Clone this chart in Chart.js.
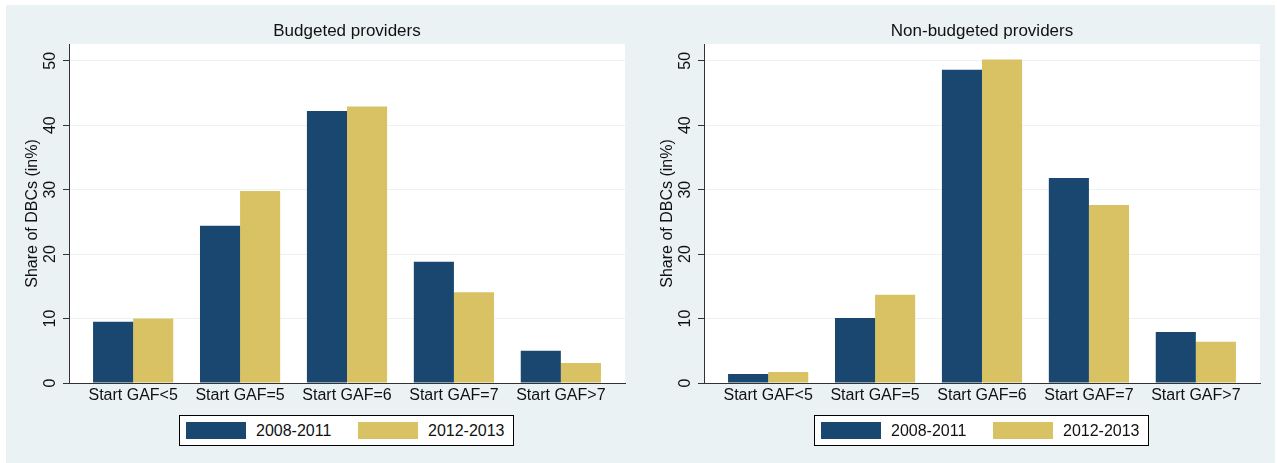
<!DOCTYPE html>
<html>
<head>
<meta charset="utf-8">
<script src="https://cdn.jsdelivr.net/npm/chart.js@4/dist/chart.umd.min.js"></script>
<style>
  html, body { margin: 0; padding: 0; background: #fff; }
  body { width: 1277px; height: 463px; position: relative; overflow: hidden;
         font-family: "Liberation Sans", Arial, sans-serif; }
  #region { position: absolute; left: 6px; top: 5px; width: 1269px; height: 458px; background: #eaf2f3; }
  .panel { position: absolute; top: 5px; width: 634px; height: 458px; }
  .legend { position: absolute; top: 415px; width: 333px; height: 29px; background: #fff;
            border: 1px solid #000; }
  .legend .sw { position: absolute; top: 6px; width: 60px; height: 17px; }
  .legend .lb { position: absolute; top: 0; line-height: 29px; font-size: 16px; color: #111; }
</style>
</head>
<body>
<div id="region"></div>
<div class="panel" style="left:6px"><canvas id="budgeted" width="634" height="458"></canvas></div>
<div class="panel" style="left:641px"><canvas id="nonBudgeted" width="634" height="458"></canvas></div>

<div class="legend" style="left:179px">
  <div class="sw" style="left:6px;background:#1a476f"></div><div class="lb" style="left:76px">2008-2011</div>
  <div class="sw" style="left:178px;background:#d8c264"></div><div class="lb" style="left:248px">2012-2013</div>
</div>
<div class="legend" style="left:814px">
  <div class="sw" style="left:6px;background:#1a476f"></div><div class="lb" style="left:76px">2008-2011</div>
  <div class="sw" style="left:178px;background:#d8c264"></div><div class="lb" style="left:248px">2012-2013</div>
</div>

<script>
// GAF start groups and shares of DBCs (%) per period
const categories = ['Start GAF<5', 'Start GAF=5', 'Start GAF=6', 'Start GAF=7', 'Start GAF>7'];
const budgeted0811 = [9.5, 24.4, 42.2, 18.8, 5.0];
const budgeted1213 = [10.0, 29.8, 42.9, 14.1, 3.1];
const nonBudgeted0811 = [1.4, 10.1, 48.6, 31.8, 7.9];
const nonBudgeted1213 = [1.7, 13.7, 50.2, 27.6, 6.4];
const periods = ['2008-2011', '2012-2013'];
const yTicks = [0, 10, 20, 30, 40, 50];

const NAVY = '#1a476f';
const GOLD = '#d8c264';
const INK = '#111';
const AXIS = '#333';
const FONT = '"Liberation Sans", Arial, sans-serif';

// white plot region behind the bars
const plotBackground = {
    id: 'plotBackground',
    beforeDraw(chart) {
        const a = chart.chartArea;
        const c = chart.ctx;
        c.save();
        c.fillStyle = '#fff';
        c.fillRect(a.left, a.top, a.right - a.left, a.bottom - a.top);
        c.restore();
    }
};

function toPoints(values) {
    return values.map((v, i) => ({ x: i, y: v }));
}

function makePanel(id, title, first, second) {
    return new Chart(document.getElementById(id).getContext('2d'), {
        type: 'bar',
        data: {
            datasets: [
                { label: periods[0], data: toPoints(first), backgroundColor: NAVY },
                { label: periods[1], data: toPoints(second), backgroundColor: GOLD }
            ]
        },
        options: {
            responsive: false,
            animation: false,
            categoryPercentage: 0.75,
            barPercentage: 1.0,
            borderWidth: 0,
            layout: { padding: { top: 0, right: 15, bottom: 55, left: 0 } },
            plugins: {
                legend: { display: false },
                tooltip: { enabled: false },
                title: {
                    display: true,
                    text: title,
                    fullSize: false,
                    color: INK,
                    font: { family: FONT, size: 17, weight: 'normal' },
                    padding: { top: 15.8, bottom: 2.8 }
                }
            },
            scales: {
                x: {
                    type: 'linear',
                    offset: false,
                    min: -0.6,
                    max: 4.6,
                    grid: { display: false, drawTicks: false, offset: false },
                    border: { color: AXIS },
                    ticks: {
                        stepSize: 1,
                        includeBounds: false,
                        autoSkip: false,
                        maxRotation: 0,
                        padding: 3,
                        color: INK,
                        font: { family: FONT, size: 16 },
                        callback: v => categories[v] ?? ''
                    },
                    afterFit: s => { s.height = 25; }
                },
                y: {
                    min: 0,
                    max: 52.6,
                    grid: { color: '#eaf2f3', tickColor: AXIS, tickLength: 6 },
                    border: { color: AXIS },
                    ticks: {
                        stepSize: 10,
                        includeBounds: false,
                        minRotation: 90,
                        maxRotation: 90,
                        crossAlign: 'center',
                        padding: 4,
                        color: INK,
                        font: { family: FONT, size: 16 },
                        callback: v => yTicks.includes(v) ? String(v) : ''
                    },
                    title: {
                        display: true,
                        text: 'Share of DBCs (in%)',
                        color: INK,
                        font: { family: FONT, size: 16 },
                        padding: { top: 17, bottom: 0 }
                    },
                    afterFit: s => { s.width = 63; }
                }
            }
        },
        plugins: [plotBackground]
    });
}

makePanel('budgeted', 'Budgeted providers', budgeted0811, budgeted1213);
makePanel('nonBudgeted', 'Non-budgeted providers', nonBudgeted0811, nonBudgeted1213);
</script>
</body>
</html>
